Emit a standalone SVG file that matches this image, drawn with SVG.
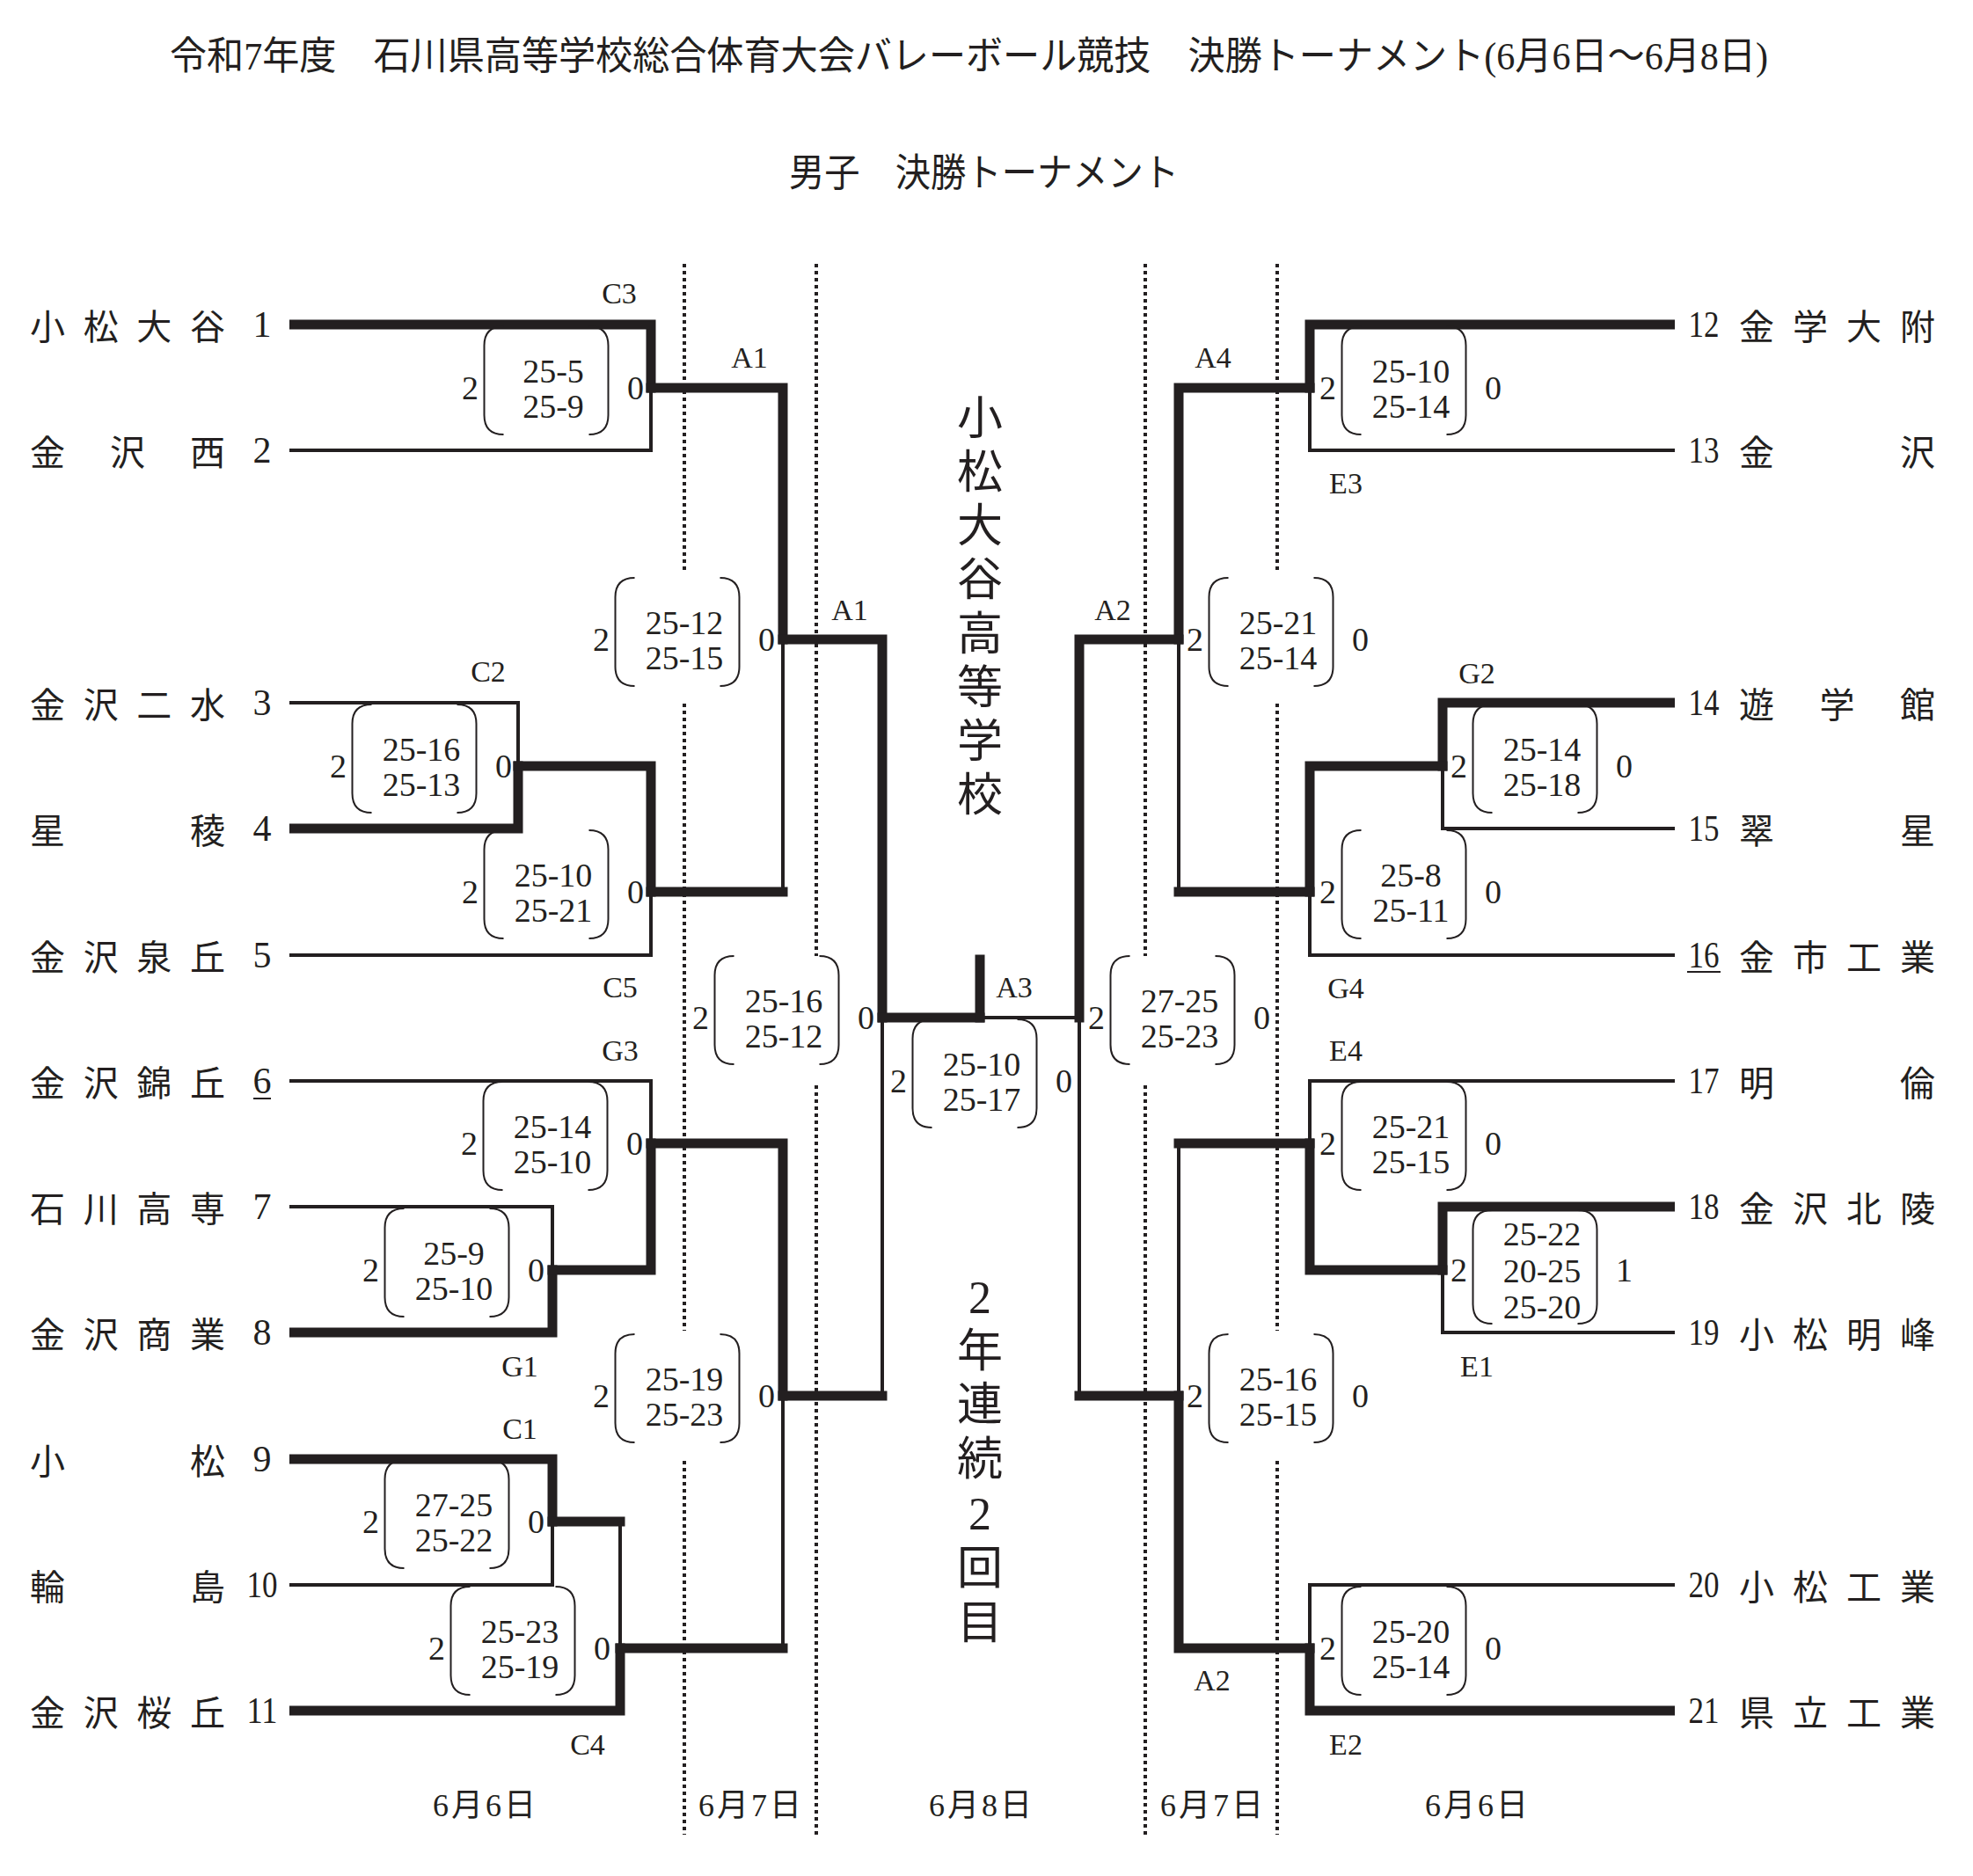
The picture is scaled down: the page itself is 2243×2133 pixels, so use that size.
<svg xmlns="http://www.w3.org/2000/svg" xmlns:xlink="http://www.w3.org/1999/xlink" width="2243" height="2133" viewBox="0 0 2243 2133">
<style>
text{fill:#231f20}
.ttl{font-family:"Liberation Serif","Noto Sans CJK JP",serif;font-size:44px;dominant-baseline:central}
.nm{font-family:"Noto Sans CJK JP",sans-serif;font-size:40px;text-anchor:middle;dominant-baseline:central}
.no{font-family:"Liberation Serif",serif;font-size:42px;text-anchor:middle;dominant-baseline:central}
.sc{font-family:"Liberation Serif",serif;font-size:38px;text-anchor:middle;dominant-baseline:central}
.lb{font-family:"Liberation Serif",serif;font-size:34px;text-anchor:middle;dominant-baseline:central}
.dt{font-family:"Liberation Serif","Noto Sans CJK JP",serif;font-size:36px;letter-spacing:3px;text-anchor:middle;dominant-baseline:central}
.vt{font-family:"Liberation Serif","Noto Sans CJK JP",serif;font-size:52px;text-anchor:middle;dominant-baseline:central}
.t{fill:none;stroke:#231f20;stroke-width:11;stroke-linecap:square;stroke-linejoin:miter}
.n{fill:none;stroke:#231f20;stroke-width:4;stroke-linecap:square;stroke-linejoin:miter}
.d{fill:none;stroke:#231f20;stroke-width:4;stroke-dasharray:4 4}
.br{fill:none;stroke:#231f20;stroke-width:2}
.ul{stroke:#231f20;stroke-width:2}
</style>
<defs>
<path id="bx2" class="br" d="M-48.5 -70 Q-70.5 -70 -70.5 -48 V31 Q-70.5 53 -48.5 53 M48.5 -70 Q70.5 -70 70.5 -48 V31 Q70.5 53 48.5 53"/>
<path id="bx3" class="br" d="M-48.5 -68 Q-70.5 -68 -70.5 -46 V39 Q-70.5 61 -48.5 61 M48.5 -68 Q70.5 -68 70.5 -46 V39 Q70.5 61 48.5 61"/>
</defs>
<rect width="2243" height="2133" fill="#ffffff"/>

<g id="titles">
<text class="ttl" x="193" y="64" textLength="1817" lengthAdjust="spacingAndGlyphs">令和7年度　石川県高等学校総合体育大会バレーボール競技　決勝トーナメント(6月6日～6月8日)</text>
<text class="ttl" x="897" y="197" textLength="443" lengthAdjust="spacingAndGlyphs">男子　決勝トーナメント</text>
</g>

<g id="day-dividers">
<path class="d" d="M778 300 V652 M778 800 V1513 M778 1661 V2086"/>
<path class="d" d="M928 300 V1087 M928 1234 V2086"/>
<path class="d" d="M1302 300 V1087 M1302 1234 V2086"/>
<path class="d" d="M1452 300 V652 M1452 800 V1513 M1452 1661 V2086"/>
</g>

<g id="dates">
<text class="dt" x="552" y="2053">6月6日</text>
<text class="dt" x="854" y="2053">6月7日</text>
<text class="dt" x="1116" y="2053">6月8日</text>
<text class="dt" x="1379" y="2053">6月7日</text>
<text class="dt" x="1680" y="2053">6月6日</text>
</g>

<g id="connectors">
<path class="t" d="M334.5 369 H740 V441"/>
<path class="n" d="M331 512 H740 V441"/>
<path class="t" d="M740 441 H890 V727"/>
<path class="n" d="M331 799 H589 V871"/>
<path class="t" d="M334.5 942 H589 V871"/>
<path class="t" d="M589 871 H740 V1014"/>
<path class="n" d="M331 1086 H740 V1014"/>
<path class="t" d="M740 1014 H890"/>
<path class="n" d="M890 1014 V727"/>
<path class="t" d="M890 727 H1003 V1157"/>
<path class="t" d="M1003 1157 H1114"/>
<path class="t" d="M1114 1091 V1157"/>
<path class="n" d="M331 1229 H740 V1300"/>
<path class="n" d="M331 1372 H628 V1444"/>
<path class="t" d="M334.5 1515 H628 V1444"/>
<path class="t" d="M628 1444 H740 V1300"/>
<path class="t" d="M740 1300 H890 V1587"/>
<path class="t" d="M334.5 1659 H628 V1730"/>
<path class="n" d="M331 1802 H628 V1730"/>
<path class="t" d="M628 1730 H705"/>
<path class="n" d="M705 1730 V1874"/>
<path class="t" d="M334.5 1945 H705 V1874"/>
<path class="t" d="M705 1874 H890"/>
<path class="n" d="M890 1874 V1587"/>
<path class="t" d="M890 1587 H1003"/>
<path class="n" d="M1003 1587 V1157"/>
<path class="t" d="M1898.5 369 H1489 V441"/>
<path class="n" d="M1902 512 H1489 V441"/>
<path class="t" d="M1489 441 H1340 V727"/>
<path class="t" d="M1898.5 799 H1640 V871"/>
<path class="n" d="M1902 942 H1640 V871"/>
<path class="t" d="M1640 871 H1489 V1014"/>
<path class="n" d="M1902 1086 H1489 V1014"/>
<path class="t" d="M1489 1014 H1340"/>
<path class="n" d="M1340 1014 V727"/>
<path class="t" d="M1340 727 H1227 V1157"/>
<path class="n" d="M1227 1157 H1114"/>
<path class="n" d="M1902 1229 H1489 V1300"/>
<path class="t" d="M1898.5 1372 H1640 V1444"/>
<path class="n" d="M1902 1515 H1640 V1444"/>
<path class="t" d="M1640 1444 H1489 V1300"/>
<path class="t" d="M1489 1300 H1340"/>
<path class="n" d="M1340 1300 V1587"/>
<path class="n" d="M1902 1802 H1489 V1874"/>
<path class="t" d="M1898.5 1945 H1489 V1874"/>
<path class="t" d="M1489 1874 H1340 V1587"/>
<path class="t" d="M1340 1587 H1227"/>
<path class="n" d="M1227 1587 V1157"/>
</g>

<g id="team-1"><text class="no" x="298" y="369">1</text><text class="nm"><tspan x="54" y="369">小</tspan><tspan x="114.7" y="369">松</tspan><tspan x="175.3" y="369">大</tspan><tspan x="236" y="369">谷</tspan></text></g>
<g id="team-2"><text class="no" x="298" y="512">2</text><text class="nm"><tspan x="54" y="512">金</tspan><tspan x="145" y="512">沢</tspan><tspan x="236" y="512">西</tspan></text></g>
<g id="team-3"><text class="no" x="298" y="799">3</text><text class="nm"><tspan x="54" y="799">金</tspan><tspan x="114.7" y="799">沢</tspan><tspan x="175.3" y="799">二</tspan><tspan x="236" y="799">水</tspan></text></g>
<g id="team-4"><text class="no" x="298" y="942">4</text><text class="nm"><tspan x="54" y="942">星</tspan><tspan x="236" y="942">稜</tspan></text></g>
<g id="team-5"><text class="no" x="298" y="1086">5</text><text class="nm"><tspan x="54" y="1086">金</tspan><tspan x="114.7" y="1086">沢</tspan><tspan x="175.3" y="1086">泉</tspan><tspan x="236" y="1086">丘</tspan></text></g>
<g id="team-6"><text class="no" x="298" y="1229">6</text><line class="ul" x1="288" y1="1249" x2="308" y2="1249"/><text class="nm"><tspan x="54" y="1229">金</tspan><tspan x="114.7" y="1229">沢</tspan><tspan x="175.3" y="1229">錦</tspan><tspan x="236" y="1229">丘</tspan></text></g>
<g id="team-7"><text class="no" x="298" y="1372">7</text><text class="nm"><tspan x="54" y="1372">石</tspan><tspan x="114.7" y="1372">川</tspan><tspan x="175.3" y="1372">高</tspan><tspan x="236" y="1372">専</tspan></text></g>
<g id="team-8"><text class="no" x="298" y="1515">8</text><text class="nm"><tspan x="54" y="1515">金</tspan><tspan x="114.7" y="1515">沢</tspan><tspan x="175.3" y="1515">商</tspan><tspan x="236" y="1515">業</tspan></text></g>
<g id="team-9"><text class="no" x="298" y="1659">9</text><text class="nm"><tspan x="54" y="1659">小</tspan><tspan x="236" y="1659">松</tspan></text></g>
<g id="team-10"><text class="no" x="298" y="1802" textLength="35" lengthAdjust="spacingAndGlyphs">10</text><text class="nm"><tspan x="54" y="1802">輪</tspan><tspan x="236" y="1802">島</tspan></text></g>
<g id="team-11"><text class="no" x="298" y="1945" textLength="35" lengthAdjust="spacingAndGlyphs">11</text><text class="nm"><tspan x="54" y="1945">金</tspan><tspan x="114.7" y="1945">沢</tspan><tspan x="175.3" y="1945">桜</tspan><tspan x="236" y="1945">丘</tspan></text></g>

<g id="team-12"><text class="no" x="1937" y="369" textLength="35" lengthAdjust="spacingAndGlyphs">12</text><text class="nm"><tspan x="1997" y="369">金</tspan><tspan x="2058" y="369">学</tspan><tspan x="2119" y="369">大</tspan><tspan x="2180" y="369">附</tspan></text></g>
<g id="team-13"><text class="no" x="1937" y="512" textLength="35" lengthAdjust="spacingAndGlyphs">13</text><text class="nm"><tspan x="1997" y="512">金</tspan><tspan x="2180" y="512">沢</tspan></text></g>
<g id="team-14"><text class="no" x="1937" y="799" textLength="35" lengthAdjust="spacingAndGlyphs">14</text><text class="nm"><tspan x="1997" y="799">遊</tspan><tspan x="2088.5" y="799">学</tspan><tspan x="2180" y="799">館</tspan></text></g>
<g id="team-15"><text class="no" x="1937" y="942" textLength="35" lengthAdjust="spacingAndGlyphs">15</text><text class="nm"><tspan x="1997" y="942">翠</tspan><tspan x="2180" y="942">星</tspan></text></g>
<g id="team-16"><text class="no" x="1937" y="1086" textLength="35" lengthAdjust="spacingAndGlyphs">16</text><line class="ul" x1="1918" y1="1105" x2="1956" y2="1105"/><text class="nm"><tspan x="1997" y="1086">金</tspan><tspan x="2058" y="1086">市</tspan><tspan x="2119" y="1086">工</tspan><tspan x="2180" y="1086">業</tspan></text></g>
<g id="team-17"><text class="no" x="1937" y="1229" textLength="35" lengthAdjust="spacingAndGlyphs">17</text><text class="nm"><tspan x="1997" y="1229">明</tspan><tspan x="2180" y="1229">倫</tspan></text></g>
<g id="team-18"><text class="no" x="1937" y="1372" textLength="35" lengthAdjust="spacingAndGlyphs">18</text><text class="nm"><tspan x="1997" y="1372">金</tspan><tspan x="2058" y="1372">沢</tspan><tspan x="2119" y="1372">北</tspan><tspan x="2180" y="1372">陵</tspan></text></g>
<g id="team-19"><text class="no" x="1937" y="1515" textLength="35" lengthAdjust="spacingAndGlyphs">19</text><text class="nm"><tspan x="1997" y="1515">小</tspan><tspan x="2058" y="1515">松</tspan><tspan x="2119" y="1515">明</tspan><tspan x="2180" y="1515">峰</tspan></text></g>
<g id="team-20"><text class="no" x="1937" y="1802" textLength="35" lengthAdjust="spacingAndGlyphs">20</text><text class="nm"><tspan x="1997" y="1802">小</tspan><tspan x="2058" y="1802">松</tspan><tspan x="2119" y="1802">工</tspan><tspan x="2180" y="1802">業</tspan></text></g>
<g id="team-21"><text class="no" x="1937" y="1945" textLength="35" lengthAdjust="spacingAndGlyphs">21</text><text class="nm"><tspan x="1997" y="1945">県</tspan><tspan x="2058" y="1945">立</tspan><tspan x="2119" y="1945">工</tspan><tspan x="2180" y="1945">業</tspan></text></g>

<g id="match-C3"><use xlink:href="#bx2" href="#bx2" x="621" y="441"/><text class="sc" x="629" y="422">25-5</text><text class="sc" x="629" y="462">25-9</text><text class="sc" x="534.5" y="441">2</text><text class="sc" x="722.5" y="441">0</text><text class="lb" x="704" y="333">C3</text></g>
<g id="match-C2"><use xlink:href="#bx2" href="#bx2" x="471" y="871"/><text class="sc" x="479" y="852">25-16</text><text class="sc" x="479" y="892">25-13</text><text class="sc" x="384.5" y="871">2</text><text class="sc" x="572.5" y="871">0</text><text class="lb" x="555" y="763">C2</text></g>
<g id="match-C5"><use xlink:href="#bx2" href="#bx2" x="621" y="1014"/><text class="sc" x="629" y="995">25-10</text><text class="sc" x="629" y="1035">25-21</text><text class="sc" x="534.5" y="1014">2</text><text class="sc" x="722.5" y="1014">0</text><text class="lb" x="705" y="1122">C5</text></g>
<g id="match-A1a"><use xlink:href="#bx2" href="#bx2" x="770" y="727"/><text class="sc" x="778" y="708">25-12</text><text class="sc" x="778" y="748">25-15</text><text class="sc" x="683.5" y="727">2</text><text class="sc" x="871.5" y="727">0</text><text class="lb" x="852" y="406">A1</text></g>
<g id="match-G3"><use xlink:href="#bx2" href="#bx2" x="620" y="1300"/><text class="sc" x="628" y="1281">25-14</text><text class="sc" x="628" y="1321">25-10</text><text class="sc" x="533.5" y="1300">2</text><text class="sc" x="721.5" y="1300">0</text><text class="lb" x="705" y="1194">G3</text></g>
<g id="match-G1"><use xlink:href="#bx2" href="#bx2" x="508" y="1444"/><text class="sc" x="516" y="1425">25-9</text><text class="sc" x="516" y="1465">25-10</text><text class="sc" x="421.5" y="1444">2</text><text class="sc" x="609.5" y="1444">0</text><text class="lb" x="591" y="1553">G1</text></g>
<g id="match-C1"><use xlink:href="#bx2" href="#bx2" x="508" y="1730"/><text class="sc" x="516" y="1711">27-25</text><text class="sc" x="516" y="1751">25-22</text><text class="sc" x="421.5" y="1730">2</text><text class="sc" x="609.5" y="1730">0</text><text class="lb" x="591" y="1624">C1</text></g>
<g id="match-C4"><use xlink:href="#bx2" href="#bx2" x="583" y="1874"/><text class="sc" x="591" y="1855">25-23</text><text class="sc" x="591" y="1895">25-19</text><text class="sc" x="496.5" y="1874">2</text><text class="sc" x="684.5" y="1874">0</text><text class="lb" x="668" y="1983">C4</text></g>
<g id="match-A-lower-left"><use xlink:href="#bx2" href="#bx2" x="770" y="1587"/><text class="sc" x="778" y="1568">25-19</text><text class="sc" x="778" y="1608">25-23</text><text class="sc" x="683.5" y="1587">2</text><text class="sc" x="871.5" y="1587">0</text></g>
<g id="match-A1b"><use xlink:href="#bx2" href="#bx2" x="883" y="1157"/><text class="sc" x="891" y="1138">25-16</text><text class="sc" x="891" y="1178">25-12</text><text class="sc" x="796.5" y="1157">2</text><text class="sc" x="984.5" y="1157">0</text><text class="lb" x="966" y="693">A1</text></g>
<g id="match-A3"><use xlink:href="#bx2" href="#bx2" x="1108" y="1229"/><text class="sc" x="1116" y="1210">25-10</text><text class="sc" x="1116" y="1250">25-17</text><text class="sc" x="1021.5" y="1229">2</text><text class="sc" x="1209.5" y="1229">0</text><text class="lb" x="1153" y="1122">A3</text></g>
<g id="match-A2a"><use xlink:href="#bx2" href="#bx2" x="1333" y="1157"/><text class="sc" x="1341" y="1138">27-25</text><text class="sc" x="1341" y="1178">25-23</text><text class="sc" x="1246.5" y="1157">2</text><text class="sc" x="1434.5" y="1157">0</text><text class="lb" x="1265" y="693">A2</text></g>
<g id="match-E3"><use xlink:href="#bx2" href="#bx2" x="1596" y="441"/><text class="sc" x="1604" y="422">25-10</text><text class="sc" x="1604" y="462">25-14</text><text class="sc" x="1509.5" y="441">2</text><text class="sc" x="1697.5" y="441">0</text><text class="lb" x="1530" y="549">E3</text></g>
<g id="match-A4"><use xlink:href="#bx2" href="#bx2" x="1445" y="727"/><text class="sc" x="1453" y="708">25-21</text><text class="sc" x="1453" y="748">25-14</text><text class="sc" x="1358.5" y="727">2</text><text class="sc" x="1546.5" y="727">0</text><text class="lb" x="1379" y="406">A4</text></g>
<g id="match-G2"><use xlink:href="#bx2" href="#bx2" x="1745" y="871"/><text class="sc" x="1753" y="852">25-14</text><text class="sc" x="1753" y="892">25-18</text><text class="sc" x="1658.5" y="871">2</text><text class="sc" x="1846.5" y="871">0</text><text class="lb" x="1679" y="765">G2</text></g>
<g id="match-G4"><use xlink:href="#bx2" href="#bx2" x="1596" y="1014"/><text class="sc" x="1604" y="995">25-8</text><text class="sc" x="1604" y="1035">25-11</text><text class="sc" x="1509.5" y="1014">2</text><text class="sc" x="1697.5" y="1014">0</text><text class="lb" x="1530" y="1123">G4</text></g>
<g id="match-E4"><use xlink:href="#bx2" href="#bx2" x="1596" y="1300"/><text class="sc" x="1604" y="1281">25-21</text><text class="sc" x="1604" y="1321">25-15</text><text class="sc" x="1509.5" y="1300">2</text><text class="sc" x="1697.5" y="1300">0</text><text class="lb" x="1530" y="1194">E4</text></g>
<g id="match-E1"><use xlink:href="#bx3" href="#bx3" x="1745" y="1444"/><text class="sc" x="1753" y="1403">25-22</text><text class="sc" x="1753" y="1445">20-25</text><text class="sc" x="1753" y="1486">25-20</text><text class="sc" x="1658.5" y="1444">2</text><text class="sc" x="1846.5" y="1444">1</text><text class="lb" x="1679" y="1553">E1</text></g>
<g id="match-E2"><use xlink:href="#bx2" href="#bx2" x="1596" y="1874"/><text class="sc" x="1604" y="1855">25-20</text><text class="sc" x="1604" y="1895">25-14</text><text class="sc" x="1509.5" y="1874">2</text><text class="sc" x="1697.5" y="1874">0</text><text class="lb" x="1530" y="1983">E2</text></g>
<g id="match-A2b"><use xlink:href="#bx2" href="#bx2" x="1445" y="1587"/><text class="sc" x="1453" y="1568">25-16</text><text class="sc" x="1453" y="1608">25-15</text><text class="sc" x="1358.5" y="1587">2</text><text class="sc" x="1546.5" y="1587">0</text><text class="lb" x="1378" y="1910">A2</text></g>

<g id="champion">
<text class="vt"><tspan x="1114" y="476">小</tspan><tspan x="1114" y="537">松</tspan><tspan x="1114" y="598">大</tspan><tspan x="1114" y="659">谷</tspan><tspan x="1114" y="721">高</tspan><tspan x="1114" y="782">等</tspan><tspan x="1114" y="843">学</tspan><tspan x="1114" y="904">校</tspan></text>
<text class="vt"><tspan x="1114" y="1475">2</tspan><tspan x="1114" y="1536">年</tspan><tspan x="1114" y="1597">連</tspan><tspan x="1114" y="1659">続</tspan><tspan x="1114" y="1721">2</tspan><tspan x="1114" y="1783">回</tspan><tspan x="1114" y="1845">目</tspan></text>
</g>
</svg>
